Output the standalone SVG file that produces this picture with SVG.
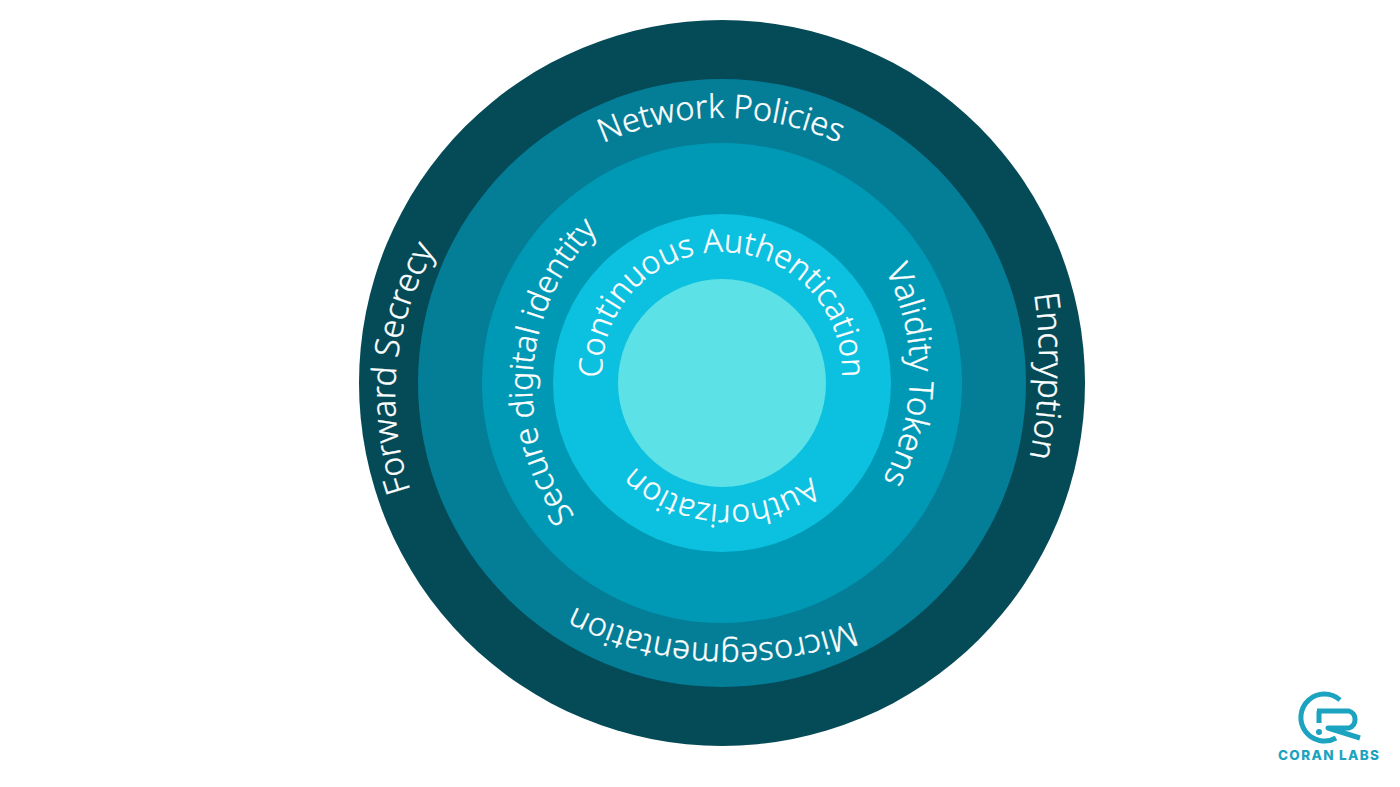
<svg xmlns="http://www.w3.org/2000/svg" width="1400" height="787" viewBox="0 0 1400 787">
<style>
.l{font-family:"Noto Sans","Open Sans",sans-serif;font-weight:300;font-size:32px;fill:#fff;stroke:#fff;stroke-width:.35;text-anchor:middle}
.lg{fill:none;stroke:#1ba3c0;stroke-width:5}
</style>
<defs>
<path id="c120" d="M0 240A120 120 0 1 1 0 0A120 120 0 1 1 0 240"/>
<path id="c134" d="M0 268A134 134 0 1 1 0 0A134 134 0 1 1 0 268"/>
<path id="c218" d="M0 436A218 218 0 1 1 0 0A218 218 0 1 1 0 436"/>
<path id="c225" d="M0 450A225 225 0 1 1 0 0A225 225 0 1 1 0 450"/>
<path id="c286" d="M0 572A286 286 0 1 1 0 0A286 286 0 1 1 0 572"/>
<path id="c343" d="M0 686A343 343 0 1 1 0 0A343 343 0 1 1 0 686"/>
<path id="c290" d="M0 580A290 290 0 1 1 0 0A290 290 0 1 1 0 580"/>
<path id="c480" d="M0 960A480 480 0 1 1 0 0A480 480 0 1 1 0 960"/>
</defs>
<rect width="1400" height="787" fill="#fff"/>
<g id="ring-outer"><circle cx="722" cy="383" r="363" fill="#044a57"/></g>
<g id="ring-2"><circle cx="722" cy="383" r="304" fill="#047d97"/></g>
<g id="ring-3"><circle cx="722" cy="383" r="240" fill="#0099b5"/></g>
<g id="ring-4"><circle cx="722" cy="383" r="169" fill="#0cc0df"/></g>
<g id="core"><circle cx="722" cy="383" r="104" fill="#5ce1e6"/></g>
<g id="label-network"><text class="l" font-size="32.500" style="font-size:32.500px" transform="translate(721 117.700)"><textPath href="#c286" startOffset="50%">Network Policies</textPath></text></g>
<g id="label-encryption"><text class="l" style="font-size:34px" transform="translate(1039 376) rotate(91.600)"><textPath href="#c480" startOffset="50%">Encryption</textPath></text></g>
<g id="label-forward"><text class="l" style="font-size:33.500px" transform="translate(396.600 367.500) rotate(275.800)"><textPath href="#c290" startOffset="50%">Forward Secrecy</textPath></text></g>
<g id="label-micro"><text class="l" style="font-size:32.500px" transform="translate(712 643.900) rotate(183.100)"><textPath href="#c343" startOffset="50%">Microsegmentation</textPath></text></g>
<g id="label-secure"><text class="l" transform="translate(533 369) rotate(274.600)"><textPath href="#c218" startOffset="50%">Secure digital identity</textPath></text></g>
<g id="label-validity"><text class="l" style="font-size:33px" transform="translate(910 375.500) rotate(90.700)"><textPath href="#c225" startOffset="50%">Validity Tokens</textPath></text></g>
<g id="label-continuous"><text class="l" transform="translate(722 252)"><textPath href="#c120" startOffset="50%">Continuous Authentication</textPath></text></g>
<g id="label-authorization"><text class="l" style="font-size:31.500px" transform="translate(720.500 505) rotate(183.500)"><textPath href="#c134" startOffset="50%">Authorization</textPath></text></g>
<g id="logo">
<path class="lg" d="M1340 700A23.500 23.500 0 1 0 1336 738"/>
<path class="lg" stroke-linejoin="round" d="M1319 711V723M1317 711H1349A9 9 0 0 1 1349 728H1328L1360 738"/>
<circle cx="1319" cy="732" r="3" fill="#1ba3c0"/>
<text x="1328.500" y="760" font-family="Inter,'Liberation Sans',sans-serif" font-weight="800" font-size="13.500" fill="#1ba3c0" text-anchor="middle" textLength="101" lengthAdjust="spacing">CORAN LABS</text>
</g>
</svg>
